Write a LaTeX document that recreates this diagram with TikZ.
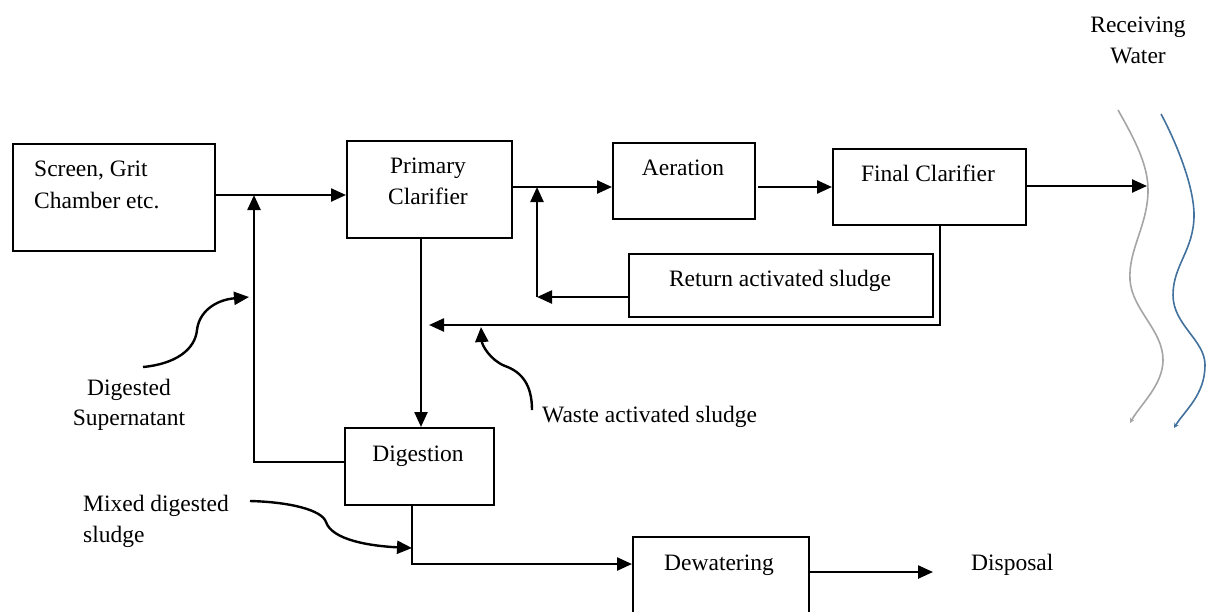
\documentclass[tikz,border=0pt]{standalone}
\usepackage{fontspec}
\setmainfont{Liberation Serif}
\usepackage{tikz}
\usetikzlibrary{arrows.meta, positioning}
\definecolor{wavegray}{HTML}{A5A5A5}
\definecolor{waveblue}{HTML}{41719C}

\begin{document}
\begin{tikzpicture}[
            x=1pt, y=-1pt,
            every node/.style={font=\fontsize{23.5}{28}\selectfont, inner sep=0pt},
            box/.style={draw, line width=2.4pt, anchor=north west},
            txt/.style={anchor=base},
            wave/.style={line width=1.6pt, -{Stealth[length=5pt, width=5pt]}},
            >={Triangle[length=15pt, width=13pt]},
            line width=2.4pt
        ]
            \useasboundingbox (0,0) rectangle (1206,611);
            \clip (0,0) rectangle (1206,611);
            % boxes
            \node[box, minimum width=202pt, minimum height=107pt] (scr) at (12,143) {};
            \node[box, minimum width=165pt, minimum height=97pt] (prim) at (346,140) {};
            \node[box, minimum width=142pt, minimum height=76pt] (aer) at (612,142) {};
            \node[box, minimum width=193pt, minimum height=76pt] (fin) at (832,148) {};
            \node[box, minimum width=304pt, minimum height=63pt] (ret) at (628,253) {};
            \node[box, minimum width=149pt, minimum height=77pt] (dig) at (344,427) {};
            \node[box, minimum width=176pt, minimum height=110pt] (dew) at (632,536) {};
            % texts
            \node[anchor=base west] (scr1) at (33,176) {Screen, Grit};
            \node[anchor=base west] (scr2) at (33,208) {Chamber etc.};
            \node[txt] (prim1) at (428,173) {Primary};
            \node[txt] (prim2) at (428,204) {Clarifier};
            \node[txt] (aer1) at (683,175) {Aeration};
            \node[txt] (fin1) at (928,181) {Final Clarifier};
            \node[txt] (ret1) at (780,286) {Return activated sludge};
            \node[txt] (dig1) at (418,461) {Digestion};
            \node[txt] (dew1) at (719,570) {Dewatering};
            \node[anchor=base west] (disp) at (970,570) {Disposal};
            \node[txt] (sup1) at (129,395) {Digested};
            \node[txt] (sup2) at (129,425) {Supernatant};
            \node[anchor=base west] (was1) at (541,422) {Waste activated sludge};
            \node[anchor=base west] (mix1) at (82,511) {Mixed digested};
            \node[anchor=base west] (mix2) at (82,542) {sludge};
            \node[txt] (rcv1) at (1138,32) {Receiving};
            \node[txt] (rcv2) at (1138,63) {Water};
            % junctions
            \coordinate (j1) at (254,195);
            \coordinate (s1) at (254,462);
            \coordinate (j2) at (537,187);
            \coordinate (r1) at (537,297);
            \coordinate (f1) at (940,325);
            \coordinate (w2) at (429,325);
            \coordinate (d1) at (421,300);
            \coordinate (m1) at (412,564);
            \coordinate (p1) at (933,572);
            \coordinate (w1) at (1147,186);
            \coordinate (c1) at (143,367);
            \coordinate (c2) at (249,297);
            \coordinate (c3) at (532,410);
            \coordinate (c4) at (481,327);
            \coordinate (c5) at (250,501);
            \coordinate (c6) at (412,548);
            % flow lines
            \draw[->] (scr.east |- j1) -- (prim.west |- j1);
            \draw[->] (dig.west |- s1) -- (s1) -- (j1);
            \draw[->] (prim.east |- j2) -- (aer.west |- j2);
            \draw[->] (ret.west |- r1) -- (r1);
            \draw[->] (r1) -- (j2);
            \draw[->] ([xshift=2pt]aer.east |- j2) -- (fin.west |- j2);
            \draw[->] (fin.east |- w1) -- (w1);
            \draw[->] (fin.south -| f1) -- (f1) -- (w2);
            \draw[->] (prim.south -| d1) -- (dig.north -| d1);
            \draw[->] (dig.south -| m1) -- (m1) -- (dew.west |- m1);
            \draw[->] (dew.east |- p1) -- (p1);
            % label pointers
            \draw[->] (c1) .. controls (175,364) and (195,350) .. (197,330)
                .. controls (199,312) and (215,300) .. (c2);
            \draw[->] (c3) .. controls (532,385) and (522,372) .. (505,366)
                .. controls (490,360) and (482,345) .. (c4);
            \draw[->] (c5) .. controls (290,502) and (322,510) .. (326,522)
                .. controls (332,540) and (370,546) .. (c6);
            % receiving water
            \draw[wave, wavegray] (1118,110) .. controls (1135,140) and (1148,165) .. (1148,190)
                .. controls (1148,225) and (1128,250) .. (1130,280)
                .. controls (1132,310) and (1163,330) .. (1163,360)
                .. controls (1163,385) and (1140,405) .. (1130,423);
            \draw[wave, waveblue] (1161,114) .. controls (1175,140) and (1194,185) .. (1194,215)
                .. controls (1194,250) and (1173,265) .. (1173,295)
                .. controls (1173,325) and (1205,340) .. (1205,365)
                .. controls (1205,395) and (1185,410) .. (1174,428);
        \end{tikzpicture}
\end{document}
